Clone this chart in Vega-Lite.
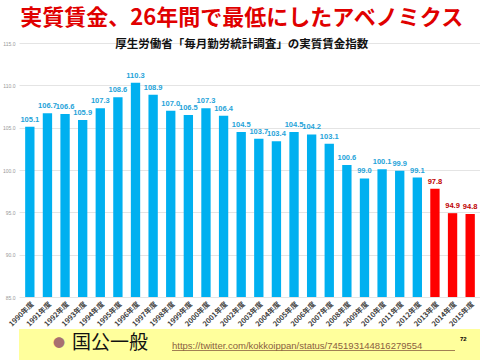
{
  "$schema": "https://vega.github.io/schema/vega-lite/v6.json",
  "padding": {"left": 2, "top": 6, "right": 0, "bottom": 0},
  "spacing": 1,
  "background": "white",
  "config": {
    "font": "Noto Sans CJK JP",
    "view": {"stroke": null},
    "concat": {"spacing": 1}
  },
  "vconcat": [
    {
      "width": 462,
      "height": 254,
      "title": {
        "text": "実質賃金、26年間で最低にしたアベノミクス",
        "subtitle": "厚生労働省「毎月勤労統計調査」の実質賃金指数",
        "anchor": "middle",
        "frame": "bounds",
        "font": "Noto Sans CJK JP",
        "fontSize": 22,
        "fontWeight": "bold",
        "color": "#E00000",
        "subtitleFont": "Noto Sans CJK JP",
        "subtitleFontSize": 11.5,
        "subtitleFontWeight": "bold",
        "subtitleColor": "#111111",
        "offset": -10,
        "subtitlePadding": 9
      },
      "data": {
        "values": [
          {"year": "1990年度", "value": 105.1, "abenomics": "no"},
          {"year": "1991年度", "value": 106.7, "abenomics": "no"},
          {"year": "1992年度", "value": 106.6, "abenomics": "no"},
          {"year": "1993年度", "value": 105.9, "abenomics": "no"},
          {"year": "1994年度", "value": 107.3, "abenomics": "no"},
          {"year": "1995年度", "value": 108.6, "abenomics": "no"},
          {"year": "1996年度", "value": 110.3, "abenomics": "no"},
          {"year": "1997年度", "value": 108.9, "abenomics": "no"},
          {"year": "1998年度", "value": 107.0, "abenomics": "no"},
          {"year": "1999年度", "value": 106.5, "abenomics": "no"},
          {"year": "2000年度", "value": 107.3, "abenomics": "no"},
          {"year": "2001年度", "value": 106.4, "abenomics": "no"},
          {"year": "2002年度", "value": 104.5, "abenomics": "no"},
          {"year": "2003年度", "value": 103.7, "abenomics": "no"},
          {"year": "2004年度", "value": 103.4, "abenomics": "no"},
          {"year": "2005年度", "value": 104.5, "abenomics": "no"},
          {"year": "2006年度", "value": 104.2, "abenomics": "no"},
          {"year": "2007年度", "value": 103.1, "abenomics": "no"},
          {"year": "2008年度", "value": 100.6, "abenomics": "no"},
          {"year": "2009年度", "value": 99.0, "abenomics": "no"},
          {"year": "2010年度", "value": 100.1, "abenomics": "no"},
          {"year": "2011年度", "value": 99.9, "abenomics": "no"},
          {"year": "2012年度", "value": 99.1, "abenomics": "no"},
          {"year": "2013年度", "value": 97.8, "abenomics": "yes"},
          {"year": "2014年度", "value": 94.9, "abenomics": "yes"},
          {"year": "2015年度", "value": 94.8, "abenomics": "yes"}
        ]
      },
      "encoding": {
        "x": {
          "field": "year",
          "type": "ordinal",
          "sort": null,
          "scale": {"paddingInner": 0.47, "paddingOuter": 0.35},
          "axis": {
            "title": null,
            "labelAngle": -45,
            "labelFontSize": 7.2,
            "labelFontWeight": "bold",
            "labelColor": "#404040",
            "domain": false,
            "ticks": false,
            "labelPadding": 3
          }
        },
        "y": {
          "field": "value",
          "type": "quantitative",
          "scale": {"domain": [85, 115], "zero": false, "nice": false},
          "axis": {
            "title": null,
            "values": [85, 90, 95, 100, 105, 110, 115],
            "format": ".1f",
            "labelFontSize": 5,
            "labelColor": "#999999",
            "labelFont": "Liberation Sans",
            "domain": false,
            "ticks": false,
            "gridColor": "#e4e4e4",
            "labelPadding": 4
          }
        }
      },
      "layer": [
        {
          "mark": {"type": "bar"},
          "encoding": {
            "y2": {"datum": 85},
            "color": {
              "field": "abenomics",
              "type": "nominal",
              "scale": {"domain": ["no", "yes"], "range": ["#00B0F0", "#FF0000"]},
              "legend": null
            }
          }
        },
        {
          "mark": {"type": "text", "baseline": "bottom", "dy": -3, "fontSize": 7.5, "fontWeight": "bold", "font": "Liberation Sans"},
          "encoding": {
            "text": {"field": "value", "type": "quantitative", "format": ".1f"},
            "color": {
              "field": "abenomics",
              "type": "nominal",
              "scale": {"domain": ["no", "yes"], "range": ["#1FA3D9", "#C00000"]},
              "legend": null
            }
          }
        }
      ],
      "resolve": {"scale": {"color": "independent"}}
    },
    {
      "width": 480,
      "height": 35,
      "view": {"fill": "#FFFF9C", "stroke": null},
      "data": {"values": [{}]},
      "layer": [
        {
          "mark": {"type": "text", "text": "●", "fontSize": 12, "color": "#A87070", "align": "center", "baseline": "middle"},
          "encoding": {"x": {"value": 40}, "y": {"value": 15}}
        },
        {
          "mark": {"type": "text", "text": "国公一般", "fontSize": 19, "fontWeight": "normal", "color": "#111111", "align": "left", "baseline": "middle", "font": "Noto Sans CJK JP"},
          "encoding": {"x": {"value": 53}, "y": {"value": 14}}
        },
        {
          "mark": {"type": "text", "text": "https://twitter.com/kokkoippan/status/745193144816279554", "fontSize": 9.5, "color": "#8A6040", "align": "left", "baseline": "middle", "font": "Liberation Sans"},
          "encoding": {"x": {"value": 153}, "y": {"value": 17}}
        },
        {
          "mark": {"type": "rule", "color": "#8A6040", "strokeWidth": 0.8},
          "encoding": {"x": {"value": 153}, "x2": {"value": 436}, "y": {"value": 21.5}}
        },
        {
          "mark": {"type": "text", "text": "72", "fontSize": 6, "fontWeight": "bold", "color": "#000000", "align": "left", "baseline": "middle", "font": "Liberation Sans"},
          "encoding": {"x": {"value": 441}, "y": {"value": 10}}
        }
      ]
    }
  ]
}
